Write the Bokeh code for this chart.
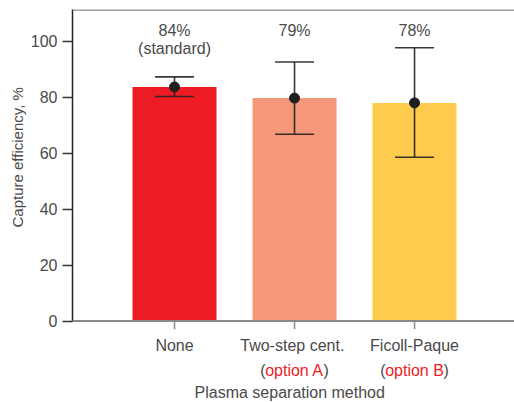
from bokeh.plotting import figure
from bokeh.models import (Range1d, FixedTicker, Whisker, TeeHead, ColumnDataSource, Span,
                          Title)
from bokeh.core.properties import value
from bokeh.embed import file_html
from bokeh.resources import INLINE

categories = ["None", "Two-step  cent.", "Ficoll-Paque"]
options = ["", "option A", "option B"]
means = [83.6, 79.6, 77.9]
lower = [80.2, 66.7, 58.5]
upper = [87.2, 92.5, 97.6]
pct_labels = ["84%", "79%", "78%"]
notes = ["(standard)", "", ""]
colors = ["#ED1C24", "#F5987A", "#FECB4F"]
y_ticks = [0, 20, 40, 60, 80, 100]

FONT = "Liberation Sans"
TXT = "#4a4a4a"
Y_TOP = 111.25
Y_BOTTOM = -29.1

xs = list(range(len(categories)))
src = ColumnDataSource(dict(x=xs, mean=means, lower=lower, upper=upper,
                            color=colors, pct=pct_labels, note=notes,
                            cat=categories))
opt_x = [x for x, o in zip(xs, options) if o]
opt_src = ColumnDataSource(dict(x=opt_x, opt=[o for o in options if o],
                                lp=["(" for _ in opt_x], rp=[")" for _ in opt_x]))

p = figure(width=514, height=402, output_backend="svg", toolbar_location=None,
           x_range=Range1d(-0.85, 2.833), y_range=Range1d(Y_BOTTOM, Y_TOP),
           x_axis_location=None,
           min_border_left=72, min_border_right=0, min_border_top=9,
           min_border_bottom=0)
p.outline_line_color = None
p.grid.grid_line_color = None

p.vbar(x="x", top="mean", width=0.7, bottom=0, fill_color="color",
       line_color=None, source=src)

# x axis line and ticks
p.add_layout(Span(location=0, dimension="width", line_color="#8a8a8a",
                  line_width=2))
p.segment(x0="x", x1="x", y0=0, y1=-2.9, line_color="#8a8a8a", line_width=1.5,
          source=src)

wh = Whisker(base="x", lower="lower", upper="upper", source=src,
             line_color="#222222", line_width=1.6, line_alpha=0.9, level="overlay",
             upper_head=TeeHead(size=39, line_color="#222222", line_width=1.6, line_alpha=0.9),
             lower_head=TeeHead(size=39, line_color="#222222", line_width=1.6, line_alpha=0.9))
p.add_layout(wh)
p.scatter(x="x", y="mean", size=10, fill_color="#1e1e1e", line_color="#1e1e1e",
          source=src)

txt = dict(text_baseline="middle", text_font=value(FONT), text_font_size="16px")

p.text(x="x", y=103.6, text="pct", source=src, text_align="center",
       text_color=TXT, **txt)
p.text(x="x", y=97.2, text="note", source=src, text_align="center",
       text_color=TXT, **txt)

# category labels
p.text(x="x", y=-8.75, text="cat", source=src, text_align="center",
       text_color=TXT, **txt)
p.text(x="x", y=-17.5, text="opt", source=opt_src, text_align="center",
       text_color="#ED1C24", **txt)
p.text(x="x", y=-17.5, x_offset=-29, text="lp", source=opt_src, text_align="right",
       text_color=TXT, **txt)
p.text(x="x", y=-17.5, x_offset=29, text="rp", source=opt_src, text_align="left",
       text_color=TXT, **txt)
p.text(x=[sum(xs) / len(xs) - 0.04], y=[-25.4], text=["Plasma separation method"],
       text_align="center", text_color=TXT, **txt)

# top border line
p.add_layout(Span(location=Y_TOP - 0.2, dimension="width", line_color="#808080",
                  line_width=1.5))

# y axis
ya = p.yaxis[0]
ya.bounds = (0, Y_TOP)
ya.ticker = FixedTicker(ticks=y_ticks)
ya.major_label_text_font = FONT
ya.major_label_text_font_size = "16px"
ya.major_label_text_color = TXT
ya.major_label_standoff = 5
ya.major_tick_out = 10
ya.major_tick_in = 0
ya.minor_tick_out = 0
ya.minor_tick_in = 0
ya.major_tick_line_color = "#333333"
ya.axis_line_color = "#222222"
ya.axis_line_width = 1.5
ya.major_tick_line_width = 1.5

# y axis title (left-side title, offset so it is centred on the 0-111 span)
p.add_layout(Title(text="Capture efficiency, %", align="left", offset=175,
                   text_font=FONT, text_font_size="15px", text_font_style="normal",
                   text_color=TXT, standoff=3), "left")

open("out.html", "w").write(file_html(p, INLINE))
